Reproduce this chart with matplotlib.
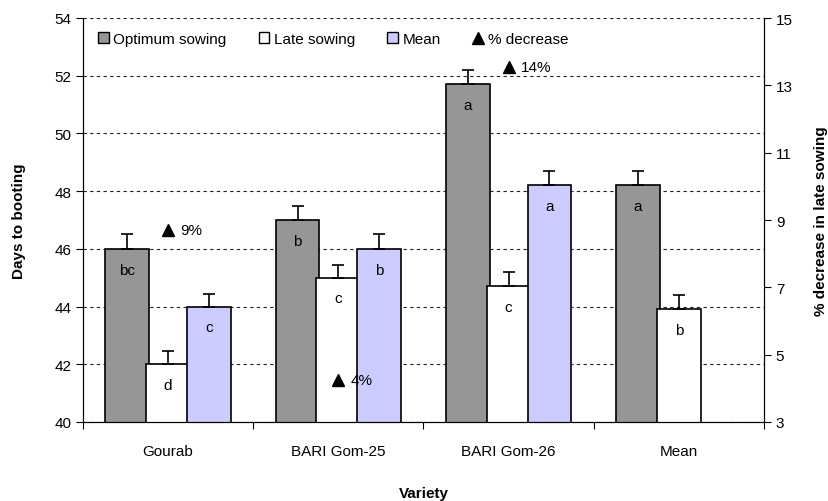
import numpy as np
import matplotlib.pyplot as plt
from matplotlib.lines import Line2D
from matplotlib.patches import Patch

plt.rcParams['font.family'] = ['Liberation Sans', 'DejaVu Sans']

varieties = ['Gourab', 'BARI Gom-25', 'BARI Gom-26', 'Mean']
optimum = [46.0, 47.0, 51.7, 48.2]
optimum_err = [0.5, 0.5, 0.5, 0.5]
optimum_lett = ['bc', 'b', 'a', 'a']
late = [42.0, 45.0, 44.7, 43.9]
late_err = [0.45, 0.45, 0.5, 0.5]
late_lett = ['d', 'c', 'c', 'b']
mean = [44.0, 46.0, 48.2]
mean_err = [0.42, 0.5, 0.5]
mean_lett = ['c', 'b', 'a']
pct_decrease = [8.7, 4.26, 13.54]


def main():
    fig = plt.figure(figsize=(8.29, 5.02), dpi=100)
    ax = fig.add_axes([83/829, 1-423/502, (764-83)/829, (423-19)/502])
    ax2 = ax.twinx()

    centers = np.arange(len(varieties)) + 0.5
    w = 0.258
    step = 0.240
    fs = 11

    def draw(xs, vals, errs, letters, color):
        ax.bar(xs, vals, width=w, bottom=0, color=color, edgecolor='black',
               linewidth=1.2, zorder=2)
        ax.errorbar(xs, vals, yerr=[np.zeros(len(errs)), errs], fmt='none',
                    ecolor='black', elinewidth=1.2, capsize=4, capthick=1.2, zorder=3)
        for x, v, t in zip(xs, vals, letters):
            ax.text(x, v - 0.72, t, ha='center', va='center', fontsize=fs, zorder=4)

    draw(centers - step, optimum, optimum_err, optimum_lett, '#969696')
    draw(centers, late, late_err, late_lett, 'white')
    draw(centers[:3] + step, mean, mean_err, mean_lett, '#CCCCFF')

    ax.set_xlim(0, len(varieties))
    ax.set_ylim(40, 54)
    ax.set_yticks(np.arange(40, 55, 2))
    ax.set_xticks(np.arange(len(varieties) + 1))
    ax.set_xticklabels([])
    ax.set_xticks(centers, minor=True)
    ax.set_xticklabels(varieties, minor=True)
    ax.tick_params(axis='x', which='minor', length=0, pad=16, labelsize=fs)
    ax.tick_params(axis='x', which='major', length=5, direction='out')
    ax.tick_params(axis='y', labelsize=fs, length=5)
    ax.yaxis.grid(True, linestyle=(0, (3, 3)), color='#222222', linewidth=0.8)
    ax.set_axisbelow(True)
    ax.spines['top'].set_visible(False)
    ax2.spines['top'].set_visible(False)
    ax.set_ylabel('Days to booting', fontsize=fs, fontweight='bold', labelpad=20)
    ax.set_xlabel('Variety', fontsize=fs, fontweight='bold', labelpad=20)

    ax2.set_ylim(3, 15)
    ax2.set_yticks(np.arange(3, 16, 2))
    ax2.tick_params(axis='y', labelsize=fs, length=5)
    ax2.plot(centers[:3], pct_decrease, linestyle='none', marker='^',
             markersize=8, color='black', zorder=5)
    for x, v in zip(centers[:3], pct_decrease):
        ax2.annotate(f'{round(v)}%', (x, v), xytext=(9, 0), textcoords='offset points',
                     ha='left', va='center', fontsize=fs)
    ax2.set_ylabel('% decrease in late sowing', fontsize=fs, fontweight='bold', labelpad=15)

    handles = [Patch(facecolor='#969696', edgecolor='black', label='Optimum sowing'),
               Patch(facecolor='white', edgecolor='black', label='Late sowing'),
               Patch(facecolor='#CCCCFF', edgecolor='black', label='Mean'),
               Line2D([], [], linestyle='none', marker='^', markersize=8,
                      color='black', label='% decrease')]
    ax2.legend(handles=handles, loc='center left', bbox_to_anchor=(0.002, 0.948),
               ncol=4, frameon=False, fontsize=fs, handlelength=0.7, handleheight=0.7,
               handletextpad=0.3, columnspacing=2.1)

    fig.savefig('out.png', dpi=100)


if __name__ == '__main__':
    main()
